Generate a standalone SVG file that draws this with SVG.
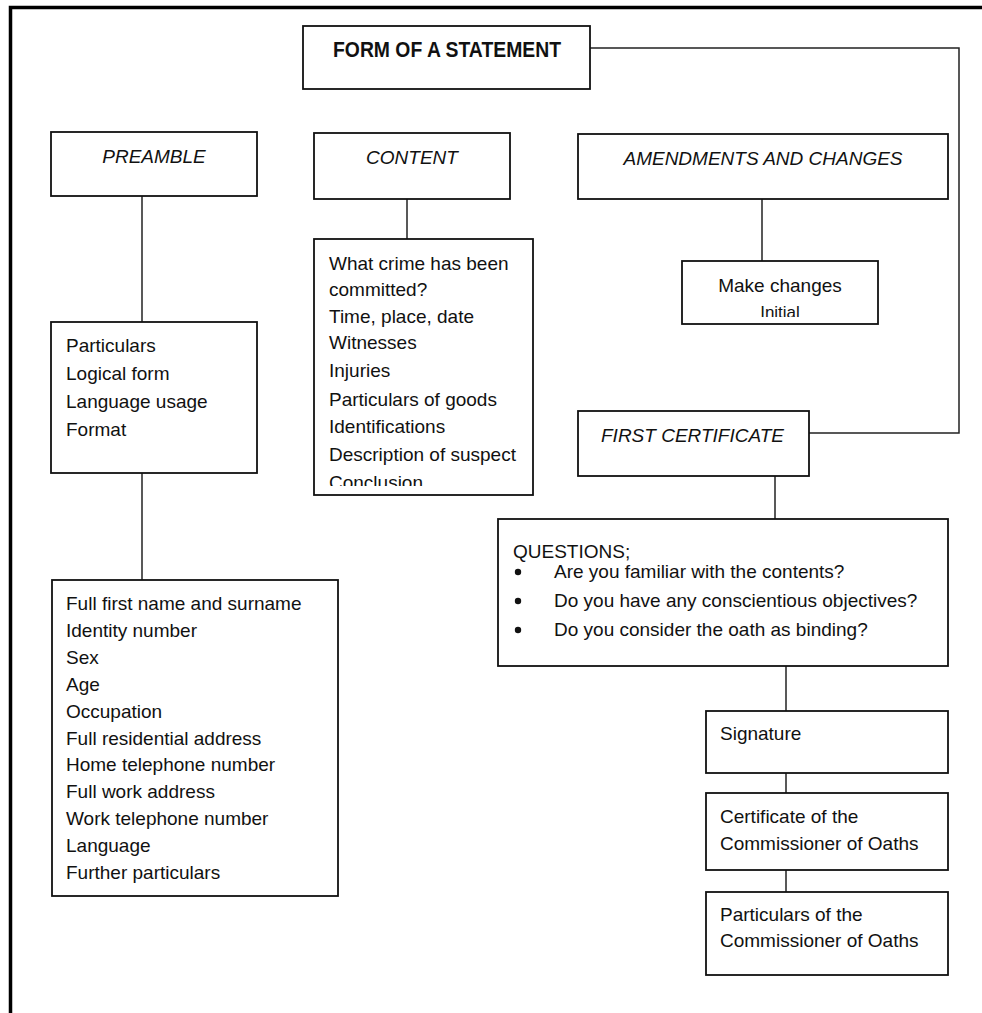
<svg xmlns="http://www.w3.org/2000/svg" width="982" height="1013" viewBox="0 0 982 1013">
<style>
.box{fill:#fff;stroke:#111;stroke-width:1.8}
.con{fill:none;stroke:#222;stroke-width:1.5}
.frame{fill:none;stroke:#000;stroke-width:3.5}
.t{font-family:"Liberation Sans",Arial,Helvetica,sans-serif;font-size:19px;fill:#111}
.i{font-style:italic}
.b{font-weight:bold;font-size:22px}
.c{text-anchor:middle}
.dot{fill:#111}
</style>
<defs>
<clipPath id="clipContent"><rect x="314" y="239" width="219" height="247"/></clipPath>
<clipPath id="clipMake"><rect x="682" y="261" width="196" height="56"/></clipPath>
</defs>
<rect width="982" height="1013" fill="#fff"/>
<g id="frame">
<path class="frame" d="M10.5 1013 V7.5 H982"/>
</g>
<g id="connectors">
<path class="con" d="M590 48 H959 V433 H809"/>
<path class="con" d="M142 196 V322"/>
<path class="con" d="M142 473 V580"/>
<path class="con" d="M407 199 V239"/>
<path class="con" d="M762 199 V261"/>
<path class="con" d="M775 476 V519"/>
<path class="con" d="M786 666 V711"/>
<path class="con" d="M786 773 V793"/>
<path class="con" d="M786 870 V892"/>
</g>
<g id="form">
<rect class="box" x="303" y="26" width="287" height="63"/>
<text class="t b" x="333" y="57" textLength="228" lengthAdjust="spacingAndGlyphs">FORM OF A STATEMENT</text>
</g>
<g id="preamble">
<rect class="box" x="51" y="132" width="206" height="64"/>
<text class="t i c" x="154" y="163">PREAMBLE</text>
</g>
<g id="preamble-list">
<rect class="box" x="51" y="322" width="206" height="151"/>
<text class="t" x="66" y="352">Particulars</text>
<text class="t" x="66" y="380">Logical form</text>
<text class="t" x="66" y="408">Language usage</text>
<text class="t" x="66" y="436">Format</text>
</g>
<g id="particulars">
<rect class="box" x="52" y="580" width="286" height="316"/>
<text class="t" x="66" y="610">Full first name and surname</text>
<text class="t" x="66" y="637">Identity number</text>
<text class="t" x="66" y="664">Sex</text>
<text class="t" x="66" y="691">Age</text>
<text class="t" x="66" y="718">Occupation</text>
<text class="t" x="66" y="745">Full residential address</text>
<text class="t" x="66" y="771">Home telephone number</text>
<text class="t" x="66" y="798">Full work address</text>
<text class="t" x="66" y="825">Work telephone number</text>
<text class="t" x="66" y="852">Language</text>
<text class="t" x="66" y="879">Further particulars</text>
</g>
<g id="content">
<rect class="box" x="314" y="133" width="196" height="66"/>
<text class="t i c" x="412" y="164">CONTENT</text>
</g>
<g id="content-list">
<rect class="box" x="314" y="239" width="219" height="256"/>
<g clip-path="url(#clipContent)">
<text class="t" x="329" y="270">What crime has been</text>
<text class="t" x="329" y="296">committed?</text>
<text class="t" x="329" y="323">Time, place, date</text>
<text class="t" x="329" y="349">Witnesses</text>
<text class="t" x="329" y="377">Injuries</text>
<text class="t" x="329" y="406">Particulars of goods</text>
<text class="t" x="329" y="433">Identifications</text>
<text class="t" x="329" y="461">Description of suspect</text>
<text class="t" x="329" y="489">Conclusion</text>
</g>
</g>
<g id="amendments">
<rect class="box" x="578" y="134" width="370" height="65"/>
<text class="t i c" x="763" y="165">AMENDMENTS AND CHANGES</text>
</g>
<g id="make-changes">
<rect class="box" x="682" y="261" width="196" height="63"/>
<g clip-path="url(#clipMake)">
<text class="t c" x="780" y="292">Make changes</text>
<text class="t c" x="780" y="318" style="font-size:17px">Initial</text>
</g>
</g>
<g id="first-certificate">
<rect class="box" x="578" y="411" width="231" height="65"/>
<text class="t i" x="601" y="442">FIRST CERTIFICATE</text>
</g>
<g id="questions">
<rect class="box" x="498" y="519" width="450" height="147"/>
<text class="t" x="513" y="558">QUESTIONS;</text>
<circle class="dot" cx="518" cy="572" r="3.2"/>
<text class="t" x="554" y="578">Are you familiar with the contents?</text>
<circle class="dot" cx="518" cy="601" r="3.2"/>
<text class="t" x="554" y="607">Do you have any conscientious objectives?</text>
<circle class="dot" cx="518" cy="630" r="3.2"/>
<text class="t" x="554" y="636">Do you consider the oath as binding?</text>
</g>
<g id="signature">
<rect class="box" x="706" y="711" width="242" height="62"/>
<text class="t" x="720" y="740">Signature</text>
</g>
<g id="certificate">
<rect class="box" x="706" y="793" width="242" height="77"/>
<text class="t" x="720" y="823">Certificate of the</text>
<text class="t" x="720" y="850">Commissioner of Oaths</text>
</g>
<g id="commissioner-particulars">
<rect class="box" x="706" y="892" width="242" height="83"/>
<text class="t" x="720" y="921">Particulars of the</text>
<text class="t" x="720" y="947">Commissioner of Oaths</text>
</g>
</svg>
